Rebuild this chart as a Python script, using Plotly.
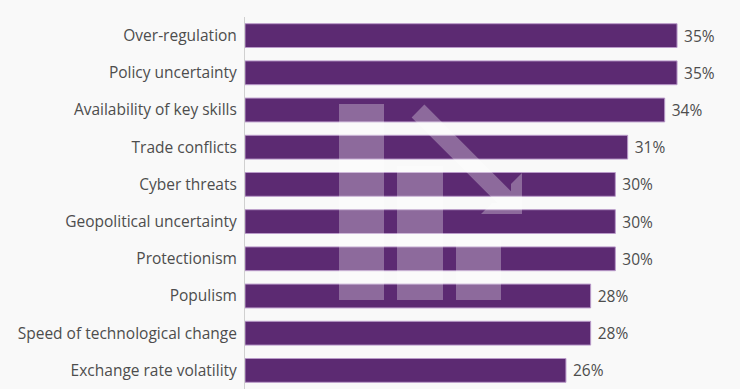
import plotly.graph_objects as go

categories = [
    "Over-regulation",
    "Policy uncertainty",
    "Availability of key skills",
    "Trade conflicts",
    "Cyber threats",
    "Geopolitical uncertainty",
    "Protectionism",
    "Populism",
    "Speed of technological change",
    "Exchange rate volatility",
]
values = [35, 35, 34, 31, 30, 30, 30, 28, 28, 26]
value_labels = [f" {v}%" for v in values]

W, H = 740, 389
ML, MR, MT, MB = 245, 0, 17, 0
PW, PH = W - ML - MR, H - MT - MB

BAR = "#5c2a72"
BAR_EDGE = "#b99ac9"
TEXT = "#4d4d4d"
BG = "#f9f9f9"

fig = go.Figure()
fig.add_trace(go.Bar(
    x=values,
    y=categories,
    orientation="h",
    marker=dict(color=BAR, line=dict(color=BAR_EDGE, width=1)),
    text=value_labels,
    textposition="outside",
    textfont=dict(family="Open Sans", size=15.5, color=TEXT),
    cliponaxis=False,
    hoverinfo="skip",
))


def px(x, y):
    return (x - ML) / PW, (H - MB - y) / PH


def rect(x0, y0, x1, y1):
    a = px(x0, y0)
    b = px(x1, y1)
    return dict(type="rect", xref="paper", yref="paper",
                x0=a[0], y0=a[1], x1=b[0], y1=b[1],
                fillcolor="rgba(255,255,255,0.30)", line=dict(width=0),
                layer="above")


def poly(pts):
    p = [px(x, y) for x, y in pts]
    d = "M " + " L ".join(f"{x:.5f},{y:.5f}" for x, y in p) + " Z"
    return dict(type="path", xref="paper", yref="paper", path=d,
                fillcolor="rgba(255,255,255,0.30)", line=dict(width=0),
                layer="above")


shapes = [
    rect(339, 104, 384, 300),
    rect(397, 166, 443, 300),
    rect(456, 240, 501, 300),
    poly([(424.4, 104.6), (511, 191.2), (511, 184), (522, 173), (522, 214),
          (481, 214), (492, 203), (497.2, 203), (411.6, 117.4)]),
]

fig.update_layout(
    width=W, height=H,
    margin=dict(l=ML, r=MR, t=MT, b=MB, pad=0),
    paper_bgcolor=BG, plot_bgcolor=BG,
    showlegend=False,
    bargap=0.36,
    shapes=shapes,
    xaxis=dict(range=[0, 40.1], visible=False, showgrid=False, zeroline=False),
    yaxis=dict(autorange="reversed", showgrid=False, zeroline=False,
               showline=True, linecolor="#d0d0d0", linewidth=1,
               ticks="", ticklabelstandoff=4,
               tickfont=dict(family="Open Sans", size=15.5, color=TEXT)),
)

fig.write_html(
    "out.html",
    config={"displayModeBar": False},
    post_script="document.body.style.margin='0';document.body.style.overflow='hidden';document.body.style.background='%s';" % BG,
)
